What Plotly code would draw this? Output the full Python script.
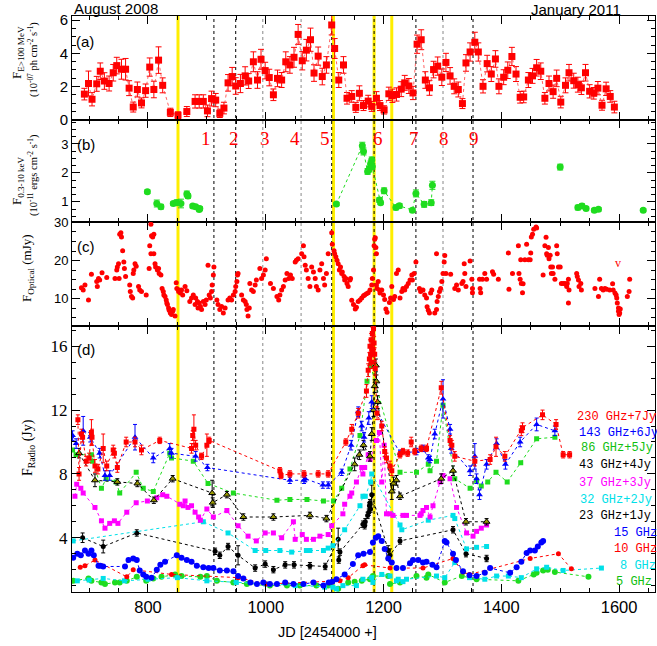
import plotly.graph_objects as go
from plotly.subplots import make_subplots

# ---------------- data ----------------
# (a) gamma-ray flux, E>100 MeV (1e-7 ph cm^-2 s^-1)
gamma_jd = [692, 699, 705, 713, 719, 726, 734, 741, 747, 755,
            762, 768, 775, 782, 789, 796, 803, 810, 818, 825,
            838, 851, 866, 880, 887, 894, 901, 908, 915, 922,
            929, 936, 943, 949, 957, 965, 971, 979, 986, 992,
            999, 1006, 1013, 1020, 1027, 1034, 1041, 1048, 1055, 1062,
            1069, 1076, 1082, 1089, 1096, 1103, 1112, 1117, 1124, 1132,
            1138, 1146, 1153, 1159, 1166, 1174, 1180, 1188, 1194, 1201,
            1209, 1215, 1222, 1230, 1236, 1243, 1250, 1257, 1264, 1271,
            1278, 1285, 1292, 1299, 1306, 1313, 1320, 1327, 1334, 1340,
            1347, 1355, 1361, 1369, 1376, 1383, 1390, 1396, 1404, 1411,
            1418, 1425, 1432, 1438, 1446, 1453, 1460, 1467, 1474, 1481,
            1488, 1494, 1501, 1509, 1515, 1523, 1530, 1536, 1543, 1550,
            1557, 1564, 1571, 1578, 1585, 1592]
gamma_flux = [1.54, 2.18, 1.23, 2.16, 2.92, 2.33, 2.18, 2.83, 3.26, 3.04,
              3.04, 1.90, 0.76, 1.82, 1.01, 1.75, 3.17, 1.82, 3.59, 2.07,
              0.44, 0.27, 0.49, 1.10, 1.10, 1.10, 0.53, 1.27, 1.18, 0.38,
              0.70, 2.22, 2.60, 2.03, 2.18, 2.64, 2.33, 3.49, 2.39, 3.64,
              2.96, 2.54, 1.50, 2.49, 2.39, 3.49, 3.30, 3.76, 5.14, 3.55,
              4.19, 4.82, 2.81, 3.83, 2.60, 3.30, 5.71, 4.29, 2.39, 3.30,
              1.29, 1.40, 0.74, 1.59, 0.85, 1.12, 0.80, 1.29, 0.85, 0.59,
              1.56, 1.44, 1.52, 1.84, 2.22, 2.03, 1.61, 4.55, 4.82, 2.39,
              1.92, 3.02, 3.23, 2.56, 3.45, 2.64, 2.01, 1.82, 0.97, 3.42,
              4.08, 4.67, 4.08, 2.01, 3.38, 2.75, 3.66, 2.01, 2.56, 2.98,
              3.81, 2.75, 1.35, 1.37, 2.39, 2.64, 3.13, 2.92, 1.29, 2.18,
              1.69, 2.49, 1.06, 2.07, 2.83, 2.35, 2.11, 1.92, 2.83, 1.71,
              1.59, 1.90, 0.87, 1.86, 1.40, 0.76]
gamma_err = [0.35, 0.75, 0.40, 0.45, 0.50, 0.50, 0.45, 0.50, 0.50, 0.60,
             0.65, 0.45, 0.30, 0.45, 0.30, 0.40, 0.55, 0.50, 0.80, 0.45,
             0.25, 0.20, 0.30, 0.40, 0.40, 0.40, 0.35, 0.45, 0.40, 0.25,
             0.35, 0.50, 0.55, 0.50, 0.55, 0.55, 0.45, 0.60, 0.50, 0.60,
             0.50, 0.50, 0.35, 0.50, 0.45, 0.60, 0.50, 0.60, 0.60, 0.55,
             0.65, 0.70, 0.50, 0.55, 0.50, 0.50, 0.60, 0.60, 0.45, 0.50,
             0.35, 0.35, 0.30, 0.45, 0.30, 0.35, 0.30, 0.40, 0.30, 0.25,
             0.40, 0.40, 0.40, 0.45, 0.45, 0.45, 0.40, 0.55, 0.60, 0.50,
             0.45, 0.50, 0.55, 0.50, 0.55, 0.50, 0.45, 0.45, 0.30, 0.50,
             0.55, 0.60, 0.55, 0.40, 0.50, 0.45, 0.50, 0.45, 0.45, 0.50,
             0.55, 0.45, 0.35, 0.35, 0.45, 0.45, 0.50, 0.50, 0.35, 0.45,
             0.40, 0.50, 0.35, 0.45, 0.50, 0.45, 0.45, 0.40, 0.50, 0.40,
             0.35, 0.40, 0.30, 0.40, 0.35, 0.35]

# (b) X-ray flux 0.3-10 keV (1e-11 erg cm^-2 s^-1)
xray_jd = [799, 815, 822, 843, 849, 856, 866, 868, 876, 881,
           887, 888, 1120, 1164, 1166, 1173, 1176, 1178, 1180, 1181,
           1193, 1195, 1201, 1221, 1227, 1249, 1255, 1269, 1281, 1283,
           1500, 1530, 1537, 1544, 1558, 1565, 1641]
xray_flux = [1.35, 0.94, 0.83, 0.94, 0.97, 0.94, 1.27, 1.20, 0.85, 0.83,
             0.73, 0.77, 0.92, 2.94, 2.74, 2.05, 2.13, 2.31, 2.45, 2.22,
             1.06, 0.97, 1.38, 0.80, 0.86, 0.71, 1.29, 0.91, 0.97, 1.57,
             2.20, 0.80, 0.85, 0.77, 0.71, 0.74, 0.71]
xray_err = [0.06, 0.12, 0.08, 0.06, 0.10, 0.15, 0.10, 0.08, 0.06, 0.05,
            0.05, 0.06, 0.05, 0.12, 0.12, 0.10, 0.10, 0.10, 0.10, 0.10,
            0.08, 0.06, 0.10, 0.08, 0.08, 0.06, 0.12, 0.10, 0.10, 0.14,
            0.10, 0.08, 0.08, 0.06, 0.06, 0.06, 0.05]

# (c) optical flux (mJy)
opt_jd = [687, 690, 693, 699, 704, 713, 714, 716, 718, 722,
          730, 744, 747, 748, 750, 751, 752, 754, 755, 757,
          759, 760, 762, 769, 770, 772, 774, 775, 776, 778,
          780, 784, 786, 789, 797, 802, 803, 805, 805, 806,
          808, 810, 810, 812, 813, 816, 818, 819, 822, 824,
          826, 827, 829, 831, 832, 833, 835, 836, 838, 840,
          842, 843, 846, 848, 849, 852, 853, 855, 857, 859,
          863, 866, 871, 874, 877, 880, 881, 884, 885, 887,
          889, 891, 894, 897, 899, 902, 904, 906, 908, 909,
          911, 912, 917, 919, 922, 925, 928, 931, 936, 939,
          942, 945, 948, 949, 951, 952, 953, 959, 962, 965,
          967, 968, 970, 972, 973, 976, 979, 982, 984, 990,
          993, 996, 999, 1001, 1008, 1013, 1019, 1022, 1024, 1027,
          1030, 1033, 1036, 1039, 1042, 1045, 1050, 1052, 1055, 1061,
          1064, 1065, 1067, 1069, 1072, 1075, 1078, 1081, 1084, 1086,
          1089, 1092, 1095, 1098, 1100, 1103, 1106, 1112, 1113, 1116,
          1117, 1119, 1121, 1123, 1125, 1127, 1129, 1130, 1133, 1134,
          1136, 1138, 1140, 1143, 1144, 1146, 1149, 1152, 1154, 1157,
          1160, 1163, 1166, 1168, 1171, 1174, 1177, 1180, 1181, 1183,
          1184, 1185, 1186, 1187, 1188, 1188, 1189, 1191, 1193, 1194,
          1197, 1200, 1202, 1204, 1206, 1210, 1212, 1214, 1217, 1219,
          1222, 1225, 1228, 1231, 1233, 1236, 1239, 1242, 1245, 1248,
          1249, 1252, 1255, 1261, 1263, 1267, 1270, 1273, 1274, 1276,
          1278, 1280, 1282, 1287, 1290, 1290, 1291, 1293, 1295, 1297,
          1299, 1301, 1303, 1304, 1306, 1314, 1321, 1324, 1327, 1333,
          1335, 1337, 1338, 1340, 1347, 1350, 1351, 1351, 1363, 1364,
          1365, 1368, 1372, 1375, 1385, 1387, 1395, 1412, 1413, 1419,
          1429, 1430, 1432, 1433, 1434, 1436, 1437, 1440, 1443, 1446,
          1449, 1450, 1451, 1453, 1455, 1459, 1460, 1471, 1474, 1476,
          1477, 1478, 1480, 1481, 1483, 1484, 1485, 1487, 1488, 1491,
          1494, 1495, 1497, 1500, 1502, 1505, 1508, 1511, 1512, 1514,
          1514, 1515, 1528, 1529, 1531, 1532, 1535, 1536, 1559, 1565,
          1567, 1570, 1573, 1576, 1579, 1584, 1589, 1590, 1593, 1595,
          1596, 1597, 1599, 1599, 1600, 1601, 1602, 1614, 1617, 1618]
opt_flux = [12.9, 12.3, 13.6, 9.7, 16.4, 14.5, 13.2, 15.3, 14.9, 16.8,
            15.6, 15.3, 17.5, 18.3, 19.2, 15.3, 26.9, 27.3, 26.2, 22.6,
            19.6, 17.9, 15.8, 13.6, 11.9, 10.6, 10.2, 16.6, 17.5, 19.2,
            18.5, 13.2, 12.3, 11.9, 11.0, 17.9, 23.9, 29.5, 21.8, 26.5,
            26.2, 26.9, 21.8, 19.2, 18.3, 17.5, 17.9, 16.6, 16.2, 12.7,
            11.9, 11.0, 10.6, 9.7, 8.9, 8.5, 7.6, 7.0, 6.3, 5.9,
            6.7, 7.2, 5.5, 14.2, 12.7, 11.9, 12.3, 11.5, 12.3, 11.0,
            13.2, 12.1, 9.3, 10.2, 11.0, 8.5, 10.2, 9.3, 7.6, 8.9,
            8.0, 7.2, 9.3, 8.5, 9.7, 18.8, 11.0, 10.2, 11.9, 13.6,
            16.2, 18.3, 9.7, 8.5, 7.2, 8.0, 6.3, 7.6, 9.7, 10.2,
            9.7, 11.0, 11.9, 13.2, 14.5, 16.2, 16.6, 11.0, 9.7, 9.3,
            8.5, 7.2, 5.5, 7.6, 14.0, 12.3, 11.9, 13.6, 14.9, 17.9,
            15.3, 16.2, 17.5, 20.5, 14.0, 12.7, 10.6, 9.7, 11.0, 12.3,
            13.2, 14.9, 16.6, 15.3, 16.2, 15.3, 19.6, 20.1, 20.5, 21.8,
            23.9, 21.0, 18.8, 17.5, 15.3, 13.2, 18.3, 17.0, 15.3, 13.2,
            12.3, 17.5, 19.2, 15.3, 13.6, 16.6, 21.8, 27.3, 24.3, 22.6,
            21.8, 21.0, 20.1, 19.2, 17.5, 18.3, 16.6, 17.0, 15.8, 14.9,
            15.3, 14.0, 13.2, 14.9, 15.3, 9.6, 8.5, 7.3, 7.8, 9.3,
            9.7, 10.2, 10.8, 11.0, 11.3, 11.6, 12.3, 13.6, 15.3, 17.5,
            23.9, 25.6, 26.0, 23.4, 21.8, 13.6, 12.7, 14.5, 12.3, 11.5,
            12.3, 11.0, 9.8, 7.3, 6.5, 9.0, 10.2, 13.2, 9.8, 10.6,
            16.6, 17.5, 10.2, 11.9, 12.7, 12.3, 13.2, 14.0, 14.9, 16.2,
            14.9, 16.6, 19.6, 12.7, 11.9, 12.3, 11.0, 10.2, 7.9, 7.0,
            6.3, 11.5, 12.3, 6.3, 7.2, 21.8, 9.3, 10.6, 11.9, 12.7,
            14.5, 16.6, 19.6, 21.3, 16.6, 16.4, 12.7, 13.6, 12.3, 14.0,
            14.5, 19.2, 16.6, 13.2, 19.9, 15.1, 12.7, 11.6, 15.1, 12.7,
            11.6, 15.1, 16.6, 15.1, 17.1, 16.4, 15.1, 22.0, 12.5, 16.6,
            23.9, 16.6, 15.1, 20.2, 14.0, 11.6, 13.9, 20.2, 24.3, 20.2,
            20.2, 22.0, 26.2, 26.9, 28.2, 28.8, 28.5, 16.2, 23.9, 26.1,
            21.8, 21.4, 23.4, 20.5, 21.4, 18.3, 16.6, 18.3, 16.6, 15.1,
            23.9, 21.8, 18.3, 18.3, 14.0, 14.0, 14.0, 13.2, 14.0, 15.1,
            8.9, 12.3, 16.6, 15.8, 14.9, 13.2, 14.0, 12.3, 12.7, 10.6,
            15.1, 12.7, 12.3, 12.7, 12.5, 12.3, 13.9, 12.3, 11.5, 11.0,
            10.2, 8.9, 7.6, 6.7, 5.9, 6.3, 7.3, 10.6, 11.9, 15.1]

# (d) radio fluxes (Jy), offsets included as plotted
r230_jd = [681, 683, 687, 689, 695, 700, 704, 705, 710, 715,
           724, 730, 741, 743, 748, 763, 778, 789, 820, 874,
           876, 878, 881, 891, 900, 904, 1024, 1026, 1041, 1065,
           1089, 1106, 1136, 1146, 1157, 1171, 1174, 1176, 1177, 1178,
           1179, 1180, 1181, 1182, 1183, 1184, 1185, 1186, 1189, 1197,
           1202, 1205, 1211, 1214, 1228, 1233, 1241, 1247, 1253, 1264,
           1273, 1298, 1313, 1316, 1321, 1355, 1381, 1391, 1406, 1434,
           1436, 1470, 1493, 1505, 1516]
r230_f = [11.4, 8.0, 10.5, 10.3, 8.8, 9.0, 10.6, 10.3, 8.5, 8.3,
          9.6, 8.5, 9.5, 9.3, 8.4, 10.0, 10.0, 9.5, 10.1, 9.6,
          10.4, 10.8, 9.8, 9.1, 9.8, 10.1, 8.2, 7.9, 8.0, 8.0,
          8.0, 8.0, 10.0, 10.8, 11.8, 13.2, 14.5, 15.2, 16.0, 15.5,
          16.4, 15.0, 16.8, 15.8, 17.1, 16.2, 15.5, 14.6, 11.8, 11.0,
          9.4, 9.0, 8.5, 8.2, 9.2, 9.4, 9.3, 10.0, 9.4, 9.6,
          9.6, 13.4, 10.1, 9.8, 9.1, 8.8, 8.9, 9.7, 9.1, 10.7,
          10.9, 11.7, 11.1, 9.2, 9.2]
r230_e = [0.3, 0.4, 0.3, 0.3, 0.3, 0.3, 0.8, 0.5, 0.4, 0.3,
          0.9, 0.3, 0.3, 0.3, 0.3, 0.3, 0.3, 0.3, 0.2, 0.3,
          0.3, 0.9, 0.3, 0.2, 0.7, 0.2, 0.2, 0.2, 0.2, 0.2,
          0.2, 0.2, 0.2, 0.3, 0.3, 0.4, 0.4, 0.4, 0.4, 0.4,
          0.4, 0.4, 0.4, 0.4, 0.4, 0.4, 0.4, 0.4, 0.4, 0.3,
          0.3, 0.3, 0.3, 0.3, 0.2, 0.2, 0.2, 0.3, 0.2, 0.2,
          0.2, 0.4, 0.3, 0.3, 0.3, 0.3, 0.3, 0.6, 0.3, 0.3,
          0.3, 0.3, 0.3, 0.2, 0.2]

b143_jd = [672, 678, 690, 702, 718, 727, 735, 778, 809, 837,
           840, 881, 901, 1041, 1065, 1067, 1097, 1106, 1129, 1145,
           1157, 1163, 1167, 1175, 1180, 1228, 1256, 1267, 1276, 1279,
           1287, 1301, 1313, 1315, 1347, 1355, 1358, 1363, 1375, 1392,
           1407, 1432, 1460, 1491]
b143_f = [10.4, 9.9, 10.7, 10.3, 9.3, 7.9, 7.9, 10.3, 9.0, 9.6,
          9.3, 9.1, 8.4, 7.6, 7.6, 7.7, 7.3, 7.3, 8.1, 9.8,
          11.9, 11.0, 10.3, 11.5, 12.5, 9.3, 9.4, 9.6, 9.0, 8.9,
          10.5, 12.7, 10.8, 9.6, 8.2, 9.1, 7.7, 6.7, 8.6, 9.9,
          8.6, 10.0, 11.1, 10.7]
b143_e = [0.3, 0.3, 0.9, 0.3, 0.3, 0.3, 0.3, 0.8, 0.3, 0.3,
          0.3, 0.3, 0.2, 0.2, 0.2, 0.2, 0.2, 0.2, 0.2, 0.3,
          0.3, 0.3, 0.3, 0.4, 0.4, 0.2, 0.2, 0.2, 0.2, 0.2,
          0.3, 1.2, 0.3, 0.3, 0.3, 0.8, 0.3, 0.3, 0.3, 0.3,
          0.3, 0.3, 0.4, 0.3]

g86_jd = [672, 678, 704, 706, 721, 729, 746, 752, 780, 792,
          809, 837, 840, 877, 902, 945, 1019, 1041, 1070, 1098,
          1115, 1129, 1143, 1160, 1172, 1178, 1228, 1256, 1276, 1279,
          1290, 1301, 1321, 1347, 1358, 1366, 1377, 1391, 1410, 1433,
          1460, 1491]
g86_f = [9.5, 9.2, 9.2, 8.8, 7.1, 7.7, 7.5, 6.8, 8.1, 7.1,
         6.9, 9.3, 9.0, 8.8, 7.4, 6.8, 6.35, 6.4, 6.4, 6.3,
         6.3, 7.1, 8.3, 10.4, 13.8, 14.8, 8.1, 8.1, 8.6, 8.2,
         8.8, 12.3, 7.7, 7.1, 7.6, 7.25, 7.5, 8.1, 7.5, 8.7,
         10.2, 10.3]

k43_jd = [683, 710, 748, 782, 810, 842, 909, 910, 934, 962,
          1013, 1075, 1103, 1151, 1159, 1166, 1177, 1180, 1183, 1185,
          1187, 1188, 1190, 1214, 1217, 1222, 1228, 1298, 1318, 1340,
          1375]
k43_f = [9.3, 7.6, 7.5, 7.4, 6.35, 7.7, 6.8, 6.2, 6.7, 5.3,
         5.3, 5.4, 5.2, 8.6, 9.2, 9.8, 9.1, 10.5, 12.0, 13.5,
         14.8, 13.8, 12.5, 6.9, 7.4, 7.6, 6.6, 7.7, 8.2, 5.0,
         5.0]
k43_e = [0.3, 0.4, 0.2, 0.2, 0.2, 0.2, 0.8, 0.3, 0.2, 0.2,
         0.2, 0.2, 0.2, 0.4, 0.3, 0.3, 0.3, 0.4, 0.4, 0.4,
         0.4, 0.4, 0.4, 0.5, 0.4, 0.3, 0.2, 0.3, 0.3, 0.2,
         0.2]

m37_jd = [676, 679, 686, 690, 710, 721, 727, 735, 743, 749,
          764, 780, 799, 815, 825, 832, 854, 860, 863, 868,
          874, 880, 886, 889, 900, 911, 934, 953, 970, 984,
          999, 1013, 1027, 1047, 1050, 1062, 1069, 1081, 1092, 1106,
          1112, 1131, 1134, 1143, 1146, 1154, 1163, 1165, 1168, 1174,
          1177, 1188, 1193, 1197, 1201, 1205, 1211, 1216, 1233, 1239,
          1262, 1264, 1267, 1273, 1279, 1284, 1296, 1301, 1313, 1324,
          1341, 1352, 1358, 1366, 1375]
m37_f = [6.6, 7.35, 7.1, 6.8, 5.9, 5.06, 4.6, 4.9, 5.06, 4.9,
         5.6, 6.2, 6.3, 6.5, 6.7, 6.6, 6.1, 6.0, 6.3, 5.9,
         6.0, 5.6, 5.3, 5.1, 5.8, 5.3, 5.7, 4.75, 4.1, 3.8,
         4.3, 4.3, 4.0, 5.0, 3.9, 4.2, 3.9, 3.9, 4.1, 4.2,
         4.75, 5.5, 6.1, 6.6, 6.8, 7.5, 8.4, 8.0, 8.4, 9.2,
         8.9, 10.1, 10.6, 7.5, 9.8, 5.5, 5.5, 5.4, 5.4, 5.4,
         5.4, 5.5, 5.7, 5.9, 5.3, 6.0, 7.5, 7.9, 7.7, 5.9,
         4.3, 4.1, 4.4, 4.6, 4.8]

c32_jd = [673, 894, 936, 982, 1000, 1024, 1044, 1069, 1075, 1098,
          1106, 1114, 1134, 1160, 1165, 1169, 1178, 1180, 1228, 1231,
          1276, 1318, 1321, 1341, 1358, 1375]
c32_f = [3.8, 5.0, 4.3, 3.2, 3.2, 3.2, 3.1, 3.2, 3.2, 3.2,
         3.35, 3.5, 4.5, 6.0, 6.6, 6.6, 7.5, 8.0, 4.8, 4.5,
         5.1, 5.4, 5.2, 3.3, 3.4, 3.45]

k23_jd = [689, 724, 781, 914, 922, 936, 953, 982, 999, 1013,
          1033, 1048, 1075, 1101, 1123, 1124, 1126, 1165, 1168, 1169,
          1173, 1175, 1176, 1177, 1178, 1180, 1208, 1211, 1228, 1318,
          1340, 1375]
k23_f = [4.0, 3.45, 4.3, 3.15, 2.9, 3.45, 2.9, 2.1, 2.35, 2.0,
         2.3, 2.3, 2.25, 2.2, 3.9, 2.6, 3.1, 4.85, 4.75, 5.0,
         5.4, 5.6, 6.0, 6.2, 5.8, 6.7, 3.2, 2.9, 3.8, 4.5,
         3.0, 2.7]
k23_e = [0.3, 0.4, 0.2, 0.2, 0.2, 0.2, 0.6, 0.2, 0.2, 0.2,
         0.2, 0.2, 0.2, 0.2, 0.7, 0.2, 0.2, 0.2, 0.2, 0.2,
         0.2, 0.2, 0.2, 0.2, 0.2, 0.6, 0.3, 0.4, 0.2, 0.2,
         0.2, 0.2]

b15_jd = [673, 680, 686, 693, 699, 704, 708, 716, 719, 724,
          761, 767, 775, 781, 786, 792, 797, 806,
          815, 821, 829, 849, 857, 866, 874, 883, 894, 903,
          911, 922, 934, 945, 953, 962, 974, 985, 996, 1007,
          1019, 1033, 1047, 1064, 1081, 1098, 1107, 1113, 1120, 1134,
          1148, 1157, 1166, 1177, 1182, 1187, 1191, 1197, 1202, 1208,
          1214, 1222, 1233, 1245, 1250, 1259, 1267, 1273, 1283, 1290,
          1304, 1307, 1318, 1323, 1335, 1346, 1358, 1372, 1381, 1415,
          1426, 1434, 1443, 1449, 1457, 1462, 1468, 1471]
b15_f = [2.75, 3.0, 2.9, 3.2, 3.0, 3.2, 2.9, 2.25, 2.25, 2.2,
         2.2, 2.6, 2.7, 2.6, 1.95, 1.7, 1.55, 1.5,
         2.0, 2.3, 2.5, 2.9, 2.75, 2.6, 2.5, 2.25, 2.15, 2.1,
         2.1, 1.95, 1.95, 1.9, 1.6, 1.45, 1.2, 1.1, 1.2, 1.1,
         1.1, 1.2, 1.1, 1.1, 1.2, 1.0, 1.2, 1.25, 1.4, 1.7,
         2.35, 2.9, 3.0, 3.1, 3.7, 4.0, 4.1, 3.8, 3.3, 2.7,
         2.45, 2.1, 2.1, 2.4, 2.6, 2.6, 2.45, 2.5, 2.3, 2.15,
         3.8, 3.7, 3.0, 2.6, 1.9, 1.65, 1.6, 1.8, 2.1, 1.8,
         2.15, 2.5, 3.05, 3.2, 3.2, 3.45, 3.7, 3.8]

r10_jd = [685, 693, 710, 764, 775, 840, 953, 1001, 1126, 1140,
          1165, 1168, 1211, 1267, 1318, 1335, 1346, 1449, 1497, 1519]
r10_f = [2.15, 2.25, 2.6, 1.55, 2.0, 1.7, 1.5, 1.1, 1.3, 1.5,
         2.25, 2.3, 2.1, 2.1, 2.7, 1.85, 1.7, 2.7, 3.0, 2.05]

c8_jd = [680, 700, 724, 760, 800, 850, 900, 950, 1000, 1050,
         1100, 1114, 1120, 1131, 1154, 1165, 1180, 1182, 1197, 1211,
         1222, 1225, 1233, 1239, 1290, 1304, 1321, 1346, 1372, 1392,
         1412, 1434, 1460, 1477, 1505, 1570]
c8_f = [1.3, 1.35, 1.45, 1.3, 1.4, 1.5, 1.3, 1.2, 1.1, 1.0,
        0.9, 0.9, 0.8, 1.0, 1.0, 1.4, 1.5, 1.2, 1.7, 1.6,
        1.3, 1.4, 1.25, 1.4, 1.6, 1.5, 2.45, 1.5, 1.4, 1.6,
        1.6, 1.5, 2.05, 2.15, 1.95, 2.1]

g5_jd = [673, 699, 704, 721, 727, 744, 752, 764, 781, 797,
         809, 823, 846, 857, 889, 900, 917, 945, 968, 1007,
         1036, 1058, 1086, 1106, 1123, 1140, 1151, 1163, 1177, 1182,
         1208, 1211, 1228, 1256, 1273, 1276, 1304, 1333, 1358, 1429,
         1455, 1460, 1471, 1479, 1491, 1548]
g5_f = [1.3, 1.45, 1.3, 1.2, 1.1, 1.2, 1.2, 1.3, 1.55, 1.3,
        1.45, 1.55, 1.7, 1.6, 1.55, 1.6, 1.3, 1.2, 1.1, 1.0,
        1.0, 1.0, 1.0, 1.0, 0.8, 1.2, 1.25, 1.3, 1.4, 1.6,
        1.6, 1.1, 1.2, 1.6, 1.5, 1.7, 1.2, 1.6, 1.4, 1.3,
        1.7, 1.8, 1.95, 2.0, 1.85, 1.55]

radio_labels = ["230 GHz+7Jy", "143 GHz+6Jy", "86 GHz+5Jy", "43 GHz+4Jy",
                "37 GHz+3Jy", "32 GHz+2Jy", "23 GHz+1Jy", "15 GHz",
                "10 GHz", "8 GHz", "5 GHz"]
flare_labels = ["1", "2", "3", "4", "5", "6", "7", "8", "9"]
flare_jd = [899, 946, 999, 1050, 1101, 1191, 1251, 1302, 1353]
yellow_jd = [851, 1115, 1184, 1214]
dotted_black_jd = [912, 949, 1112, 1184, 1255, 1352]
dotted_gray_jd = [995, 1060, 1301]

# ---------------- figure ----------------
W, H = 657, 646
ML, MR, MT, MB = 72, 2, 16, 54
PW, PH = W - ML - MR, H - MT - MB


def px(x):
    return (x - ML) / PW


def py(y):
    return (H - MB - y) / PH


fig = make_subplots(rows=4, cols=1, shared_xaxes=True, vertical_spacing=0)

RED, BLUE, GREEN, MAG, CYAN = "#ff0000", "#0000ff", "#1fdc1f", "#ff00ff", "#00e0e8"

# (a)
fig.add_trace(go.Scatter(
    x=gamma_jd, y=gamma_flux, mode="lines+markers",
    line=dict(color="rgba(255,60,60,0.8)", dash="dot", width=1),
    marker=dict(symbol="square", size=7, color=RED),
    error_y=dict(type="data", array=gamma_err, color=RED, thickness=1, width=3)),
    row=1, col=1)

# (b)
fig.add_trace(go.Scatter(
    x=xray_jd[12:30], y=xray_flux[12:30], mode="lines",
    line=dict(color=GREEN, dash="dot", width=1), hoverinfo="skip"), row=2, col=1)
fig.add_trace(go.Scatter(
    x=xray_jd, y=xray_flux, mode="markers",
    marker=dict(symbol="circle", size=7, color=GREEN),
    error_y=dict(type="data", array=xray_err, color=GREEN, thickness=1, width=3)),
    row=2, col=1)

# (c)
fig.add_trace(go.Scatter(
    x=opt_jd, y=opt_flux, mode="markers",
    marker=dict(symbol="circle", size=5, color=RED)), row=3, col=1)


def radio(xs, ys, color, symbol, size, err=None, mcolor=None, mline=None):
    pairs = sorted(zip(xs, ys, err if err else [0] * len(xs)))
    sx = [p[0] for p in pairs]
    sy = [p[1] for p in pairs]
    se = [p[2] for p in pairs]
    mk = dict(symbol=symbol, size=size, color=mcolor or color)
    if mline:
        mk["line"] = dict(color=mline, width=1)
    tr = go.Scatter(x=sx, y=sy, mode="lines+markers",
                    line=dict(color=color, dash="dot", width=1), marker=mk)
    if err:
        tr.error_y = dict(type="data", array=se, color=mline or color, thickness=1, width=2)
    fig.add_trace(tr, row=4, col=1)


radio(g5_jd, g5_f, GREEN, "circle", 6)
radio(c8_jd, c8_f, CYAN, "square", 5)
radio(r10_jd, r10_f, RED, "circle", 5)
radio(k23_jd, k23_f, "#000000", "circle", 5, err=k23_e)
radio(c32_jd, c32_f, CYAN, "square", 5)
radio(m37_jd, m37_f, MAG, "square", 5)
radio(g86_jd, g86_f, GREEN, "square", 5)
radio(k43_jd, k43_f, "#000000", "triangle-up", 6, err=k43_e, mcolor="#9a9a00", mline="#000000")
radio(b143_jd, b143_f, BLUE, "triangle-up", 6, err=b143_e)
radio(r230_jd, r230_f, RED, "square", 5, err=r230_e)
radio(b15_jd, b15_f, BLUE, "circle", 6)

# ---------------- axes ----------------
def dom(top, bottom):
    return (py(bottom), py(top))


domains = [dom(16, 120), dom(120, 222), dom(222, 325.5), dom(325.5, 592)]
yranges = [(-0.02, 6.25), (0.3, 3.83), (3, 30.1), (0.6, 17.3)]
ydticks = [2, 1, 10, 4]
yminor = [0.5, 0.25, 2.5, 1]
ytickfonts = [dict(family="Liberation Sans", size=15, color="black"),
              dict(family="Liberation Sans", size=13, color="black"),
              dict(family="Liberation Sans", size=13, color="black"),
              dict(family="Liberation Serif", size=17, color="black")]

for i in range(4):
    n = "" if i == 0 else str(i + 1)
    fig.layout["yaxis" + n].update(
        domain=domains[i], range=yranges[i], dtick=ydticks[i], tick0=0,
        showline=True, linecolor="black", linewidth=1, mirror="ticks",
        ticks="inside", ticklen=8, tickcolor="black", showgrid=False, zeroline=False,
        minor=dict(ticks="inside", ticklen=4, dtick=yminor[i], tickcolor="black"),
        tickfont=ytickfonts[i], automargin=False)
    fig.layout["xaxis" + n].update(
        range=[671, 1661], dtick=200, tick0=0,
        showline=True, linecolor="black", linewidth=1, mirror="ticks",
        ticks="inside", ticklen=8, tickcolor="black", showgrid=False, zeroline=False,
        minor=dict(ticks="inside", ticklen=4, dtick=50, tickcolor="black"),
        showticklabels=(i == 3), automargin=False,
        tickfont=dict(family="Liberation Sans", size=16.5, color="black"))

# ---------------- vertical marker lines ----------------
shapes = []
for xv in dotted_gray_jd:
    shapes.append(dict(type="line", xref="x", yref="paper", x0=xv, x1=xv, y0=0, y1=1,
                       line=dict(color="#888888", width=1, dash="dot"), layer="below"))
for xv in yellow_jd:
    shapes.append(dict(type="line", xref="x", yref="paper", x0=xv, x1=xv, y0=0, y1=1,
                       line=dict(color="#ffee00", width=3), layer="below"))
for xv in dotted_black_jd:
    shapes.append(dict(type="line", xref="x", yref="paper", x0=xv, x1=xv, y0=0, y1=1,
                       line=dict(color="#000000", width=1, dash="dot"), layer="below"))
fig.update_layout(shapes=shapes)

# ---------------- annotations ----------------
ann = []
SANS = "Liberation Sans"
SERIF = "Liberation Serif"


def text(t, x, y, size, family=SANS, color="black", xanchor="center", yanchor="middle",
         angle=0, xref="paper"):
    ann.append(dict(text=t, x=x, y=y, xref=xref, yref="paper", showarrow=False,
                    xanchor=xanchor, yanchor=yanchor, textangle=angle,
                    font=dict(family=family, size=size, color=color)))


text("August 2008", px(72), py(8), 15, xanchor="left")
text("January 2011", px(623), py(9), 15, xanchor="right")
text("(a)", px(74), py(42), 15, xanchor="left")
text("(b)", px(75), py(144), 15, xanchor="left")
text("(c)", px(75), py(246), 15, xanchor="left")
text("(d)", px(75), py(349), 15, xanchor="left")
text("JD [2454000 +]", px(327), py(632), 14.5)

text("F<sub>E&gt;100 MeV</sub>", px(17), py(52), 13, family=SERIF, angle=-90)
text("(10<sup>-07</sup> ph cm<sup>-2</sup> s<sup>-1</sup>)", px(33), py(60), 10.5, family=SERIF, angle=-90)
text("F<sub>0.3-10 keV</sub>", px(17), py(180), 13, family=SERIF, angle=-90)
text("(10<sup>-11</sup> ergs cm<sup>-2</sup> s<sup>-1</sup>)", px(33), py(175), 10.5, family=SERIF, angle=-90)
text("F<sub>Optical</sub> (mJy)", px(27), py(268), 13, family=SERIF, angle=-90)
text("F<sub>Radio</sub> (Jy)", px(28), py(448), 14, family=SERIF, angle=-90)

for lab, xv in zip(flare_labels, flare_jd):
    text(lab, xv, py(138), 19, family=SERIF, color=RED, xref="x")

text("v", 1599, py(263), 12, family=SERIF, color=RED, xref="x")

leg_colors = [RED, BLUE, "#10c010", "#000000", MAG, CYAN, "#000000", BLUE, RED, CYAN, "#10c010"]
leg_x = [575, 577, 579, 577, 577, 578, 577, 612, 612, 618, 614]
leg_y = [417, 433, 448, 465, 483, 500, 516, 533, 549, 566, 582]
for lab, c, lx, ly in zip(radio_labels, leg_colors, leg_x, leg_y):
    text(lab, px(lx), py(ly), 12, family="Liberation Mono", color=c, xanchor="left")

fig.update_layout(
    width=W, height=H, margin=dict(l=ML, r=MR, t=MT, b=MB, autoexpand=False),
    paper_bgcolor="white", plot_bgcolor="white", showlegend=False,
    annotations=ann, font=dict(family=SANS, color="black"))

# remove the default 8px page margin so the figure sits at the window origin
fig.write_html("out.html", config={"displayModeBar": False},
               post_script="document.body.style.margin='0';document.body.style.overflow='hidden';")
